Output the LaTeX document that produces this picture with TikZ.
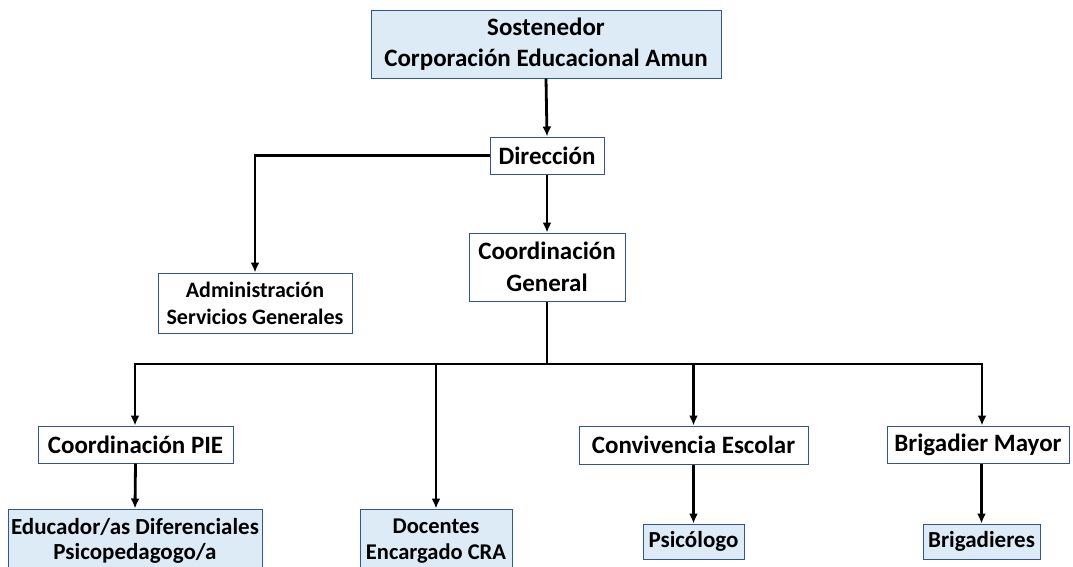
\documentclass[tikz,border=0pt]{standalone}
\usepackage{fontspec}
\setmainfont{Carlito}
\usetikzlibrary{arrows.meta}
\definecolor{boxline}{HTML}{2F5597}
\definecolor{boxfill}{HTML}{DDEBF7}
\tikzset{
  box/.style={draw=boxline, line width=1pt, fill=white, align=center, inner sep=0pt, font=\bfseries},
  bluebox/.style={box, fill=boxfill},
  big/.style={font=\fontsize{25}{31}\selectfont\bfseries},
  arr/.style={line width=2.8pt, -{Latex[length=10pt,width=9pt]}},
  ln/.style={line width=2.8pt}
}
\begin{document}
\begin{tikzpicture}[x=1pt,y=-1pt]
\useasboundingbox (0,0) rectangle (1073,566);
\clip (0,0) rectangle (1073,566);
\fill[white] (0,0) rectangle (1073,566);
% nodes
\node[bluebox, big, minimum width=350pt, minimum height=68pt] (sost) at (546,44) {Sostenedor\\Corporación Educacional Amun};
\node[box, big, minimum width=114pt, minimum height=37pt] (dir) at (547,155.5) {Dirección};
\node[box, font=\fontsize{22}{27}\selectfont\bfseries, minimum width=194pt, minimum height=60pt] (admin) at (255,303) {Administración\\Servicios Generales};
\node[box, font=\fontsize{25}{32}\selectfont\bfseries, minimum width=156pt, minimum height=68pt] (cg) at (547,267) {Coordinación\\General};
\node[box, big, minimum width=195pt, minimum height=37pt] (pie) at (135.5,444.5) {Coordinación PIE};
\node[box, big, minimum width=229pt, minimum height=38pt] (conv) at (693.5,445) {Convivencia Escolar};
\node[box, big, minimum width=182pt, minimum height=37pt] (brig) at (978,444.5) {Brigadier Mayor};
\node[bluebox, font=\fontsize{23}{25}\selectfont\bfseries, minimum width=254pt, minimum height=64pt] (edu) at (135,541) {Educador/as Diferenciales\\Psicopedagogo/a};
\node[bluebox, font=\fontsize{22.5}{26}\selectfont\bfseries, minimum width=152pt, minimum height=64pt] (doc) at (436,541) {Docentes\\Encargado CRA};
\node[bluebox, font=\fontsize{23}{26}\selectfont\bfseries, minimum width=101pt, minimum height=35pt] (psi) at (693.5,541.5) {Psicólogo};
\node[bluebox, font=\fontsize{23}{26}\selectfont\bfseries, minimum width=117pt, minimum height=35pt] (brigs) at (981.5,541.5) {Brigadieres};
% bus coordinates
\coordinate (busL) at (135,364);
\coordinate (busR) at (982,364);
\coordinate (busC) at (547,364);
% connectors
\draw[arr] (sost.south) -- (dir.north);
\draw[arr] (dir.west) -| (admin.north);
\draw[arr] (dir.south) -- (cg.north);
\draw[ln] (cg.south) -- (busC);
\draw[ln, line cap=rect] (busL) -- (busR);
\draw[arr] (busL) -- (busL |- pie.north);
\draw[arr] (doc.north |- busC) -- (doc.north);
\draw[arr] (conv.north |- busC) -- (conv.north);
\draw[arr] (busR) -- (busR |- brig.north);
\draw[arr] (pie.south) -- (edu.north);
\draw[arr] (conv.south) -- (psi.north);
\draw[arr] (brigs.north |- brig.south) -- (brigs.north);
\end{tikzpicture}
\end{document}
